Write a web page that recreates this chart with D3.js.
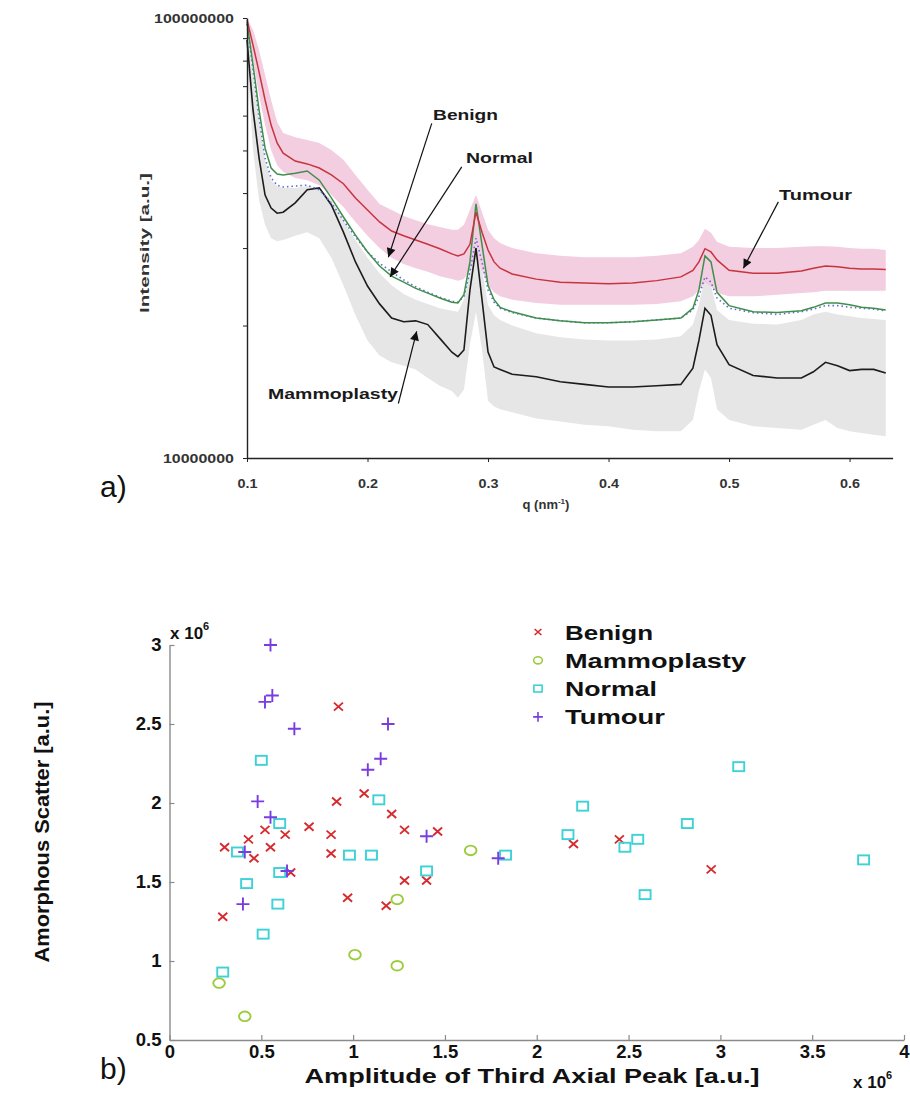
<!DOCTYPE html>
<html>
<head>
<meta charset="utf-8">
<script src="https://cdn.jsdelivr.net/npm/d3@7"></script>
<style>
  body { margin: 0; background: #fff; }
  text { font-family: Arial, "Liberation Sans", sans-serif; }
</style>
</head>
<body>
<div id="chart"></div>
<script>
// ---------- a) SAXS profiles (intensity in units of 1e6) ----------
var q = [0.100,0.105,0.110,0.115,0.120,0.125,0.130,
  0.140,0.150,0.160,0.170,0.180,0.190,0.200,0.210,0.220,0.230,0.240,0.250,0.260,0.270,
  0.275,0.280,0.285,0.290,0.295,0.300,0.305,0.310,
  0.320,
  0.340,0.360,0.380,0.400,0.420,0.440,0.460,
  0.470,0.475,0.480,0.485,0.490,
  0.500,
  0.520,0.540,0.560,
  0.570,0.580,0.590,0.600,0.610,0.620,0.630];

var tumour = [99.0,86.8,75.4,65.1,57.1,52.0,49.3,
  47.3,46.6,45.6,44.0,42.0,39.0,36.6,34.4,32.8,32.0,31.3,30.6,29.9,29.1,
  28.8,29.1,30.6,36.2,32.6,29.7,27.9,27.0,
  26.2,
  25.5,25.1,25.0,24.9,25.0,25.3,25.8,
  26.7,27.9,29.9,29.4,28.2,
  26.7,
  26.3,26.3,26.6,
  27.0,27.3,27.2,27.0,26.9,26.9,26.8];
var tumourHi = [100,93.9,84.6,74.2,65.1,58.0,54.8,
  53.6,52.8,52.0,50.1,47.6,44.0,40.7,37.8,36.6,35.5,34.7,34.0,33.5,33.0,
  33.0,33.9,36.6,39.6,36.2,33.0,31.6,30.8,
  30.0,
  29.2,28.8,28.6,28.6,28.6,28.8,29.2,
  30.2,31.3,33.2,32.5,31.0,
  30.2,
  30.0,30.0,30.2,
  30.3,30.3,30.2,30.0,29.9,29.9,29.7];
var tumourLo = [96.4,80.3,66.8,57.1,50.1,46.3,44.7,
  43.3,42.8,41.7,39.6,37.2,34.4,32.0,30.0,28.5,27.6,27.0,26.5,25.9,25.5,
  25.3,25.5,26.7,28.8,26.7,24.7,23.8,23.3,
  22.9,
  22.5,22.3,22.3,22.3,22.3,22.4,22.7,
  23.3,24.1,25.0,24.6,23.7,
  23.3,
  23.3,23.5,23.7,
  23.8,24.0,24.0,24.0,24.0,24.0,24.0];
var normal = [97.9,78.2,61.8,50.6,45.6,44.2,44.0,
  44.4,44.9,42.8,39.0,35.3,32.1,29.4,27.3,25.9,25.1,24.3,23.7,23.1,22.6,
  22.5,23.5,27.9,37.8,30.5,24.7,22.9,22.0,
  21.5,
  20.8,20.5,20.3,20.3,20.4,20.6,20.8,
  21.9,24.1,28.8,27.9,23.8,
  22.2,
  21.5,21.4,21.6,
  22.0,22.5,22.5,22.3,22.0,21.9,21.7];
var benign = [96.9,76.2,59.3,48.1,43.3,41.7,41.3,
  41.5,41.7,40.7,38.0,34.7,31.8,29.4,27.7,26.5,25.4,24.5,23.8,23.2,22.7,
  22.6,23.3,26.5,31.6,27.9,24.1,22.6,21.9,
  21.4,
  20.8,20.5,20.3,20.3,20.4,20.6,20.8,
  21.7,23.3,25.8,25.1,23.1,
  21.9,
  21.4,21.2,21.5,
  21.8,22.2,22.2,22.0,21.9,21.8,21.6];
var mammo = [89.1,61.8,48.1,39.6,37.0,36.0,36.2,
  38.0,40.7,41.1,37.6,32.6,27.9,24.6,22.4,20.8,20.4,20.5,20.1,18.7,17.4,
  17.0,17.6,24.1,30.0,22.9,17.4,16.1,15.9,
  15.5,
  15.3,14.9,14.7,14.5,14.5,14.6,14.7,
  16.0,18.5,21.9,21.1,18.1,
  16.3,
  15.4,15.2,15.2,
  15.7,16.5,16.2,15.8,15.9,15.9,15.6];
var mammoHi = [97.9,74.2,59.3,47.6,42.8,41.5,41.1,
  41.1,41.5,41.1,38.6,34.7,31.3,28.5,26.3,24.7,23.6,22.9,22.4,21.9,21.6,
  21.5,22.9,26.7,32.6,27.0,22.3,21.1,20.6,
  20.0,
  19.2,18.8,18.6,18.5,18.5,18.6,18.9,
  20.1,22.3,25.7,24.7,21.7,
  20.6,
  20.2,20.1,20.6,
  21.2,21.5,21.2,21.0,20.8,20.7,20.6];
var mammoLo = [80.3,50.1,38.6,33.9,31.6,31.1,31.3,
  32.0,32.6,31.6,28.5,24.7,21.1,18.5,17.1,16.5,16.2,15.9,15.2,14.6,14.2,
  13.7,14.3,18.1,21.5,17.6,13.5,13.1,12.9,
  12.7,
  12.3,12.1,11.9,11.8,11.6,11.5,11.5,
  12.2,14.2,15.9,15.2,12.9,
  12.2,
  11.8,11.7,11.6,
  11.9,12.2,11.7,11.5,11.4,11.3,11.2];

var qTicks = [0.1, 0.2, 0.3, 0.4, 0.5, 0.6];

// labels with arrows: text start (tq, ti), arrow from (aq0, ai0) to (aq1, ai1)
var notes = [
  {label: "Benign",      tq: 0.2544, ti: 58.6, aq0: 0.2533, ai0: 57.6, aq1: 0.2173, ai1: 28.6, len: 65},
  {label: "Normal",      tq: 0.2817, ti: 46.8, aq0: 0.2782, ai0: 45.9, aq1: 0.2187, ai1: 25.8, len: 67},
  {label: "Tumour",      tq: 0.5415, ti: 38.6, aq0: 0.5409, ai0: 38.2, aq1: 0.5119, ai1: 27.0, len: 73},
  {label: "Mammoplasty", tq: 0.1174, ti: 13.6, aq0: 0.2256, ai0: 13.3, aq1: 0.2408, ai1: 19.4, len: 130}
];

// ---------- b) scatter (both axes in units of 1e6) ----------
var benignAmp     = [0.30,0.43,0.46,0.52,0.55,0.63,0.66,0.76,0.88,0.88,0.91,1.06,0.97,1.21,1.28,1.28,1.18,1.40,1.46,0.29,2.20,2.45,2.95,0.92];
var benignScatter = [1.72,1.77,1.65,1.83,1.72,1.80,1.56,1.85,1.80,1.68,2.01,2.06,1.40,1.93,1.83,1.51,1.35,1.51,1.82,1.28,1.74,1.77,1.58,2.61];
var mammoAmp      = [0.27,0.41,1.01,1.24,1.24,1.64];
var mammoScatter  = [0.86,0.65,1.04,0.97,1.39,1.70];
var normalAmp     = [0.37,0.42,0.29,0.51,0.59,0.60,0.60,0.98,1.10,1.14,1.40,1.83,0.50,3.10,2.25,2.82,2.17,2.55,2.48,3.78,2.59];
var normalScatter = [1.69,1.49,0.93,1.17,1.36,1.56,1.87,1.67,1.67,2.02,1.57,1.67,2.27,2.23,1.98,1.87,1.80,1.77,1.72,1.64,1.42];
var tumourAmp     = [0.55,0.52,0.56,0.68,1.19,1.15,1.08,0.48,0.55,0.41,0.64,0.40,1.40,1.79];
var tumourScatter = [3.00,2.64,2.68,2.47,2.50,2.28,2.21,2.01,1.91,1.69,1.57,1.36,1.79,1.65];

var ampTicks = [0, 0.5, 1, 1.5, 2, 2.5, 3, 3.5, 4];
var scatTicks = [0.5, 1, 1.5, 2, 2.5, 3];

var groups = [
  {name: "Benign",      kind: "x",      color: "#d62a2e", xs: benignAmp, ys: benignScatter},
  {name: "Mammoplasty", kind: "circle", color: "#9ccc3c", xs: mammoAmp,  ys: mammoScatter},
  {name: "Normal",      kind: "square", color: "#3cd2d6", xs: normalAmp, ys: normalScatter},
  {name: "Tumour",      kind: "plus",   color: "#7a3ce0", xs: tumourAmp, ys: tumourScatter}
];
var legendWidths = {Benign: 88, Mammoplasty: 181, Normal: 92, Tumour: 100};

var svg = d3.select("#chart").append("svg")
    .attr("width", 910)
    .attr("height", 1095);

svg.append("defs").append("marker")
    .attr("id", "head")
    .attr("viewBox", "0 0 10 10")
    .attr("refX", 10).attr("refY", 5)
    .attr("markerWidth", 11).attr("markerHeight", 9)
    .attr("markerUnits", "userSpaceOnUse")
    .attr("orient", "auto")
  .append("path")
    .attr("d", "M0,0L10,5L0,10Z")
    .attr("fill", "#111");

// ===== top chart =====
var x1 = d3.scaleLinear().domain([0.1, 0.6357]).range([247, 892.6]);
var y1 = d3.scaleLog().domain([1e7, 1e8]).range([458, 18]);
var idx = d3.range(q.length);

function band(lo, hi) {
  return d3.area()
    .x(function(i) { return x1(q[i]); })
    .y0(function(i) { return y1(lo[i] * 1e6); })
    .y1(function(i) { return y1(hi[i] * 1e6); })(idx);
}
function curve(vals) {
  return d3.line()
    .x(function(i) { return x1(q[i]); })
    .y(function(i) { return y1(vals[i] * 1e6); })(idx);
}

var topG = svg.append("g");
topG.append("path").attr("d", band(mammoLo, mammoHi)).attr("fill", "#e6e6e6");
topG.append("path").attr("d", band(tumourLo, tumourHi)).attr("fill", "#f3cde0");
topG.append("path").attr("d", curve(mammo)).attr("fill", "none")
    .attr("stroke", "#1c1c1c").attr("stroke-width", 1.6);
topG.append("path").attr("d", curve(benign)).attr("fill", "none")
    .attr("stroke", "#5a6ed6").attr("stroke-width", 1.6).attr("stroke-dasharray", "1.5,3");
topG.append("path").attr("d", curve(normal)).attr("fill", "none")
    .attr("stroke", "#3f8f4a").attr("stroke-width", 1.5);
topG.append("path").attr("d", curve(tumour)).attr("fill", "none")
    .attr("stroke", "#c8343e").attr("stroke-width", 1.5);

// axes
var yAx = topG.append("g")
    .attr("transform", "translate(247,0)")
    .call(d3.axisLeft(y1)
      .tickValues(d3.range(1, 11).map(function(k) { return k * 1e7; }))
      .tickSize(4).tickSizeOuter(0).tickPadding(9)
      .tickFormat(function(d) { return (d === 1e7 || d === 1e8) ? d3.format("d")(d) : ""; }));
yAx.selectAll("text")
    .attr("font-size", 12.5).attr("font-weight", "bold").attr("fill", "#333")
    .attr("textLength", function(d) { return d === 1e8 ? 80 : (d === 1e7 ? 71 : null); })
    .attr("lengthAdjust", "spacingAndGlyphs");

var xAx = topG.append("g")
    .attr("transform", "translate(0,458)")
    .call(d3.axisBottom(x1).tickValues(qTicks)
      .tickSize(4).tickSizeOuter(0).tickPadding(17)
      .tickFormat(d3.format(".1f")));
xAx.selectAll("text")
    .attr("font-size", 12.5).attr("font-weight", "bold").attr("fill", "#333")
    .attr("textLength", 20).attr("lengthAdjust", "spacingAndGlyphs");
topG.selectAll(".domain").attr("stroke", "#222").attr("stroke-width", 1.4);
topG.selectAll(".tick line").attr("stroke", "#222");

var ql = topG.append("text")
    .attr("x", 546).attr("y", 509)
    .attr("text-anchor", "middle")
    .attr("font-size", 13).attr("font-weight", "bold").attr("fill", "#333");
ql.append("tspan").text("q (nm");
ql.append("tspan").attr("dy", -5).attr("font-size", 8).text("-1");
ql.append("tspan").attr("dy", 5).text(")");

topG.append("text")
    .attr("transform", "translate(149,243) rotate(-90)")
    .attr("text-anchor", "middle")
    .attr("font-size", 13.5).attr("font-weight", "bold").attr("fill", "#333")
    .attr("textLength", 140).attr("lengthAdjust", "spacingAndGlyphs")
    .text("Intensity [a.u.]");

notes.forEach(function(n) {
  topG.append("line")
      .attr("x1", x1(n.aq0)).attr("y1", y1(n.ai0 * 1e6))
      .attr("x2", x1(n.aq1)).attr("y2", y1(n.ai1 * 1e6))
      .attr("stroke", "#111").attr("stroke-width", 1.2)
      .attr("marker-end", "url(#head)");
  topG.append("text")
      .attr("x", x1(n.tq)).attr("y", y1(n.ti * 1e6))
      .attr("font-size", 15).attr("font-weight", "bold").attr("fill", "#1a1a1a")
      .attr("textLength", n.len).attr("lengthAdjust", "spacingAndGlyphs")
      .text(n.label);
});

svg.append("text")
    .attr("x", 100).attr("y", 497)
    .attr("font-family", "'Liberation Serif', 'Times New Roman', serif")
    .attr("font-size", 30).attr("fill", "#111")
    .text("a)");

// ===== bottom chart =====
var x2 = d3.scaleLinear().domain([0, 4]).range([169.5, 904]);
var y2 = d3.scaleLinear().domain([0.5, 3]).range([1040, 645]);

var botG = svg.append("g");

botG.append("g")
    .attr("transform", "translate(0,1040)")
    .call(d3.axisBottom(x2).tickValues(ampTicks)
      .tickSize(-5).tickSizeOuter(0).tickPadding(5)
      .tickFormat(d3.format("")));
botG.append("g")
    .attr("transform", "translate(169.5,0)")
    .call(d3.axisLeft(y2).tickValues(scatTicks)
      .tickSize(-5).tickSizeOuter(0).tickPadding(8)
      .tickFormat(d3.format("")));
botG.selectAll(".domain").attr("stroke", "#8a8a8a").attr("stroke-width", 1.4);
botG.selectAll(".tick line").attr("stroke", "#8a8a8a").attr("stroke-width", 1.2);
botG.selectAll(".tick text")
    .attr("font-size", 18.5).attr("font-weight", "bold").attr("fill", "#111");

function expLabel(xp, yp) {
  var t = botG.append("text")
      .attr("x", xp).attr("y", yp)
      .attr("font-size", 17).attr("font-weight", "bold").attr("fill", "#111");
  t.append("tspan").text("x 10");
  t.append("tspan").attr("dy", -9).attr("font-size", 11).text("6");
}
expLabel(170, 639);
expLabel(853, 1088);

botG.append("text")
    .attr("x", 532).attr("y", 1083)
    .attr("text-anchor", "middle")
    .attr("font-size", 20).attr("font-weight", "bold").attr("fill", "#111")
    .attr("textLength", 455).attr("lengthAdjust", "spacingAndGlyphs")
    .text("Amplitude of Third Axial Peak [a.u.]");

botG.append("text")
    .attr("transform", "translate(49,832) rotate(-90)")
    .attr("text-anchor", "middle")
    .attr("font-size", 20).attr("font-weight", "bold").attr("fill", "#111")
    .attr("textLength", 261).attr("lengthAdjust", "spacingAndGlyphs")
    .text("Amorphous Scatter [a.u.]");

function drawMarker(g, kind, cx, cy, s) {
  var p;
  if (kind === "x") {
    p = "M" + (cx - 4.5 * s) + "," + (cy - 4 * s) + "L" + (cx + 4.5 * s) + "," + (cy + 4 * s) +
        "M" + (cx - 4.5 * s) + "," + (cy + 4 * s) + "L" + (cx + 4.5 * s) + "," + (cy - 4 * s);
    g.append("path").attr("d", p);
  } else if (kind === "plus") {
    p = "M" + (cx - 6.5 * s) + "," + cy + "L" + (cx + 6.5 * s) + "," + cy +
        "M" + cx + "," + (cy - 6.5 * s) + "L" + cx + "," + (cy + 6.5 * s);
    g.append("path").attr("d", p);
  } else if (kind === "square") {
    g.append("rect").attr("x", cx - 5.5 * s).attr("y", cy - 4.5 * s)
        .attr("width", 11 * s).attr("height", 9 * s).attr("fill", "none");
  } else {
    g.append("ellipse").attr("cx", cx).attr("cy", cy)
        .attr("rx", 5.8 * s).attr("ry", 4.8 * s).attr("fill", "none");
  }
}

groups.forEach(function(gr) {
  var g = botG.append("g").attr("stroke", gr.color).attr("stroke-width", 1.9).attr("fill", "none");
  gr.xs.forEach(function(v, i) {
    drawMarker(g, gr.kind, x2(v), y2(gr.ys[i]), 1);
  });
});

// legend
var leg = botG.append("g").attr("transform", "translate(538,632)");
groups.forEach(function(gr, i) {
  var row = leg.append("g").attr("transform", "translate(0," + (i * 28.3) + ")");
  var m = row.append("g").attr("stroke", gr.color).attr("stroke-width", 1.6).attr("fill", "none");
  drawMarker(m, gr.kind, 0, 0, 0.75);
  row.append("text")
      .attr("x", 27).attr("y", 7.5)
      .attr("font-size", 20).attr("font-weight", "bold").attr("fill", "#111")
      .attr("textLength", legendWidths[gr.name]).attr("lengthAdjust", "spacingAndGlyphs")
      .text(gr.name);
});

svg.append("text")
    .attr("x", 100).attr("y", 1079)
    .attr("font-family", "'Liberation Serif', 'Times New Roman', serif")
    .attr("font-size", 30).attr("fill", "#111")
    .text("b)");
</script>
</body>
</html>
